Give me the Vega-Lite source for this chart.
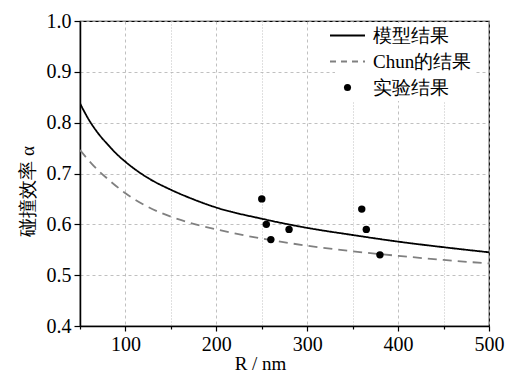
{
  "$schema": "https://vega.github.io/schema/vega-lite/v6.json",
  "width": 409,
  "height": 305,
  "autosize": "none",
  "padding": {"left": 80, "top": 21, "right": 16, "bottom": 47},
  "background": "white",
  "config": {
    "view": {"stroke": "black", "strokeWidth": 1.2},
    "font": "Liberation Serif",
    "axis": {
      "domainColor": "black",
      "domainWidth": 1.5,
      "tickColor": "black",
      "tickWidth": 1.2,
      "labelColor": "black",
      "labelFontSize": 20,
      "titleFontSize": 19,
      "titleFontWeight": "normal",
      "titleColor": "black",
      "gridColor": "#b0b0b0",
      "gridWidth": 0.8,
      "labelOverlap": false,
      "labelFlush": false
    }
  },
  "datasets": {
    "curves": [
      {"R": 50, "alpha": 0.838, "series": "模型结果"},
      {"R": 60, "alpha": 0.805, "series": "模型结果"},
      {"R": 70, "alpha": 0.779, "series": "模型结果"},
      {"R": 80, "alpha": 0.758, "series": "模型结果"},
      {"R": 90, "alpha": 0.739, "series": "模型结果"},
      {"R": 100, "alpha": 0.723, "series": "模型结果"},
      {"R": 110, "alpha": 0.709, "series": "模型结果"},
      {"R": 125, "alpha": 0.691, "series": "模型结果"},
      {"R": 150, "alpha": 0.668, "series": "模型结果"},
      {"R": 175, "alpha": 0.649, "series": "模型结果"},
      {"R": 200, "alpha": 0.633, "series": "模型结果"},
      {"R": 250, "alpha": 0.611, "series": "模型结果"},
      {"R": 300, "alpha": 0.593, "series": "模型结果"},
      {"R": 350, "alpha": 0.579, "series": "模型结果"},
      {"R": 400, "alpha": 0.566, "series": "模型结果"},
      {"R": 450, "alpha": 0.555, "series": "模型结果"},
      {"R": 500, "alpha": 0.545, "series": "模型结果"},
      {"R": 50, "alpha": 0.746, "series": "Chun的结果"},
      {"R": 60, "alpha": 0.725, "series": "Chun的结果"},
      {"R": 70, "alpha": 0.706, "series": "Chun的结果"},
      {"R": 80, "alpha": 0.690, "series": "Chun的结果"},
      {"R": 90, "alpha": 0.675, "series": "Chun的结果"},
      {"R": 100, "alpha": 0.661, "series": "Chun的结果"},
      {"R": 110, "alpha": 0.649, "series": "Chun的结果"},
      {"R": 125, "alpha": 0.634, "series": "Chun的结果"},
      {"R": 150, "alpha": 0.615, "series": "Chun的结果"},
      {"R": 175, "alpha": 0.601, "series": "Chun的结果"},
      {"R": 200, "alpha": 0.590, "series": "Chun的结果"},
      {"R": 250, "alpha": 0.572, "series": "Chun的结果"},
      {"R": 300, "alpha": 0.558, "series": "Chun的结果"},
      {"R": 350, "alpha": 0.547, "series": "Chun的结果"},
      {"R": 400, "alpha": 0.538, "series": "Chun的结果"},
      {"R": 450, "alpha": 0.530, "series": "Chun的结果"},
      {"R": 500, "alpha": 0.523, "series": "Chun的结果"}
    ],
    "exp": [
      {"R": 250, "alpha": 0.65, "series": "实验结果"},
      {"R": 255, "alpha": 0.60, "series": "实验结果"},
      {"R": 260, "alpha": 0.57, "series": "实验结果"},
      {"R": 280, "alpha": 0.59, "series": "实验结果"},
      {"R": 360, "alpha": 0.63, "series": "实验结果"},
      {"R": 365, "alpha": 0.59, "series": "实验结果"},
      {"R": 380, "alpha": 0.54, "series": "实验结果"}
    ]
  },
  "layer": [
    {
      "data": {"name": "curves"},
      "mark": {"type": "line", "interpolate": "monotone", "strokeWidth": 1.8, "clip": true},
      "encoding": {
        "x": {
          "field": "R", "type": "quantitative",
          "scale": {"domain": [50, 500], "nice": false, "zero": false},
          "axis": {
            "title": "R / nm",
            "labelFont": "Liberation Serif",
            "titleFont": "Liberation Serif",
            "titleX": 180,
            "titleAlign": "center",
            "titlePadding": 0,
            "values": [50, 100, 150, 200, 250, 300, 350, 400, 450, 500],
            "labelExpr": "datum.value % 100 === 0 ? datum.label : ''",
            "tickSize": {"condition": {"test": "datum.value % 100 === 0", "value": 5}, "value": 3},
            "gridDash": {"condition": {"test": "datum.value % 100 === 0", "value": [3, 3]}, "value": [1, 2]},
            "labelPadding": 3
          }
        },
        "y": {
          "field": "alpha", "type": "quantitative",
          "scale": {"domain": [0.4, 1.0], "nice": false, "zero": false},
          "axis": {
            "title": "碰撞效率 α",
            "labelFont": "Liberation Serif",
            "titleFont": "Liberation Serif",
            "titlePadding": 9,
            "titleY": 170,
            "values": [0.4, 0.45, 0.5, 0.55, 0.6, 0.65, 0.7, 0.75, 0.8, 0.85, 0.9, 0.95, 1.0],
            "labelExpr": "round(datum.value * 100) % 10 === 0 ? format(datum.value, '.1f') : ''",
            "tickSize": {"condition": {"test": "round(datum.value * 100) % 10 === 0", "value": 6}, "value": 3},
            "gridDash": {"condition": {"test": "round(datum.value * 100) % 10 === 0", "value": [3, 3]}, "value": [1, 2]},
            "labelPadding": 3
          }
        },
        "color": {
          "field": "series", "type": "nominal",
          "scale": {"domain": ["模型结果", "Chun的结果", "实验结果"], "range": ["#000000", "#808080", "#000000"]},
          "legend": {
            "title": null,
            "orient": "none",
            "legendX": 255,
            "legendY": 2,
            "fillColor": "white",
            "padding": 3,
            "labelFontSize": 19,
            "labelFont": "Liberation Serif",
            "labelColor": "black",
            "labelOffset": 16,
            "rowPadding": 6,
            "symbolSize": 1225,
            "symbolStrokeWidth": 2,
            "encode": {
              "symbols": {
                "update": {
                  "shape": {"signal": "datum.value === '实验结果' ? 'circle' : 'stroke'"},
                  "size": {"signal": "datum.value === '实验结果' ? 50 : 1225"},
                  "strokeDash": {"signal": "datum.value === 'Chun的结果' ? [6, 5] : [1, 0]"},
                  "fill": {"signal": "datum.value === '实验结果' ? 'black' : 'transparent'"},
                  "stroke": {"signal": "datum.value === 'Chun的结果' ? '#808080' : 'black'"},
                  "strokeWidth": {"signal": "datum.value === '实验结果' ? 0 : 2"},
                  "opacity": {"value": 1}
                }
              }
            }
          }
        },
        "strokeDash": {
          "field": "series", "type": "nominal",
          "scale": {"domain": ["模型结果", "Chun的结果"], "range": [[1, 0], [9, 6]]},
          "legend": null
        }
      }
    },
    {
      "data": {"name": "exp"},
      "mark": {"type": "point", "filled": true, "size": 55, "opacity": 1},
      "encoding": {
        "x": {"field": "R", "type": "quantitative"},
        "y": {"field": "alpha", "type": "quantitative"},
        "color": {"field": "series", "type": "nominal"}
      }
    }
  ]
}
